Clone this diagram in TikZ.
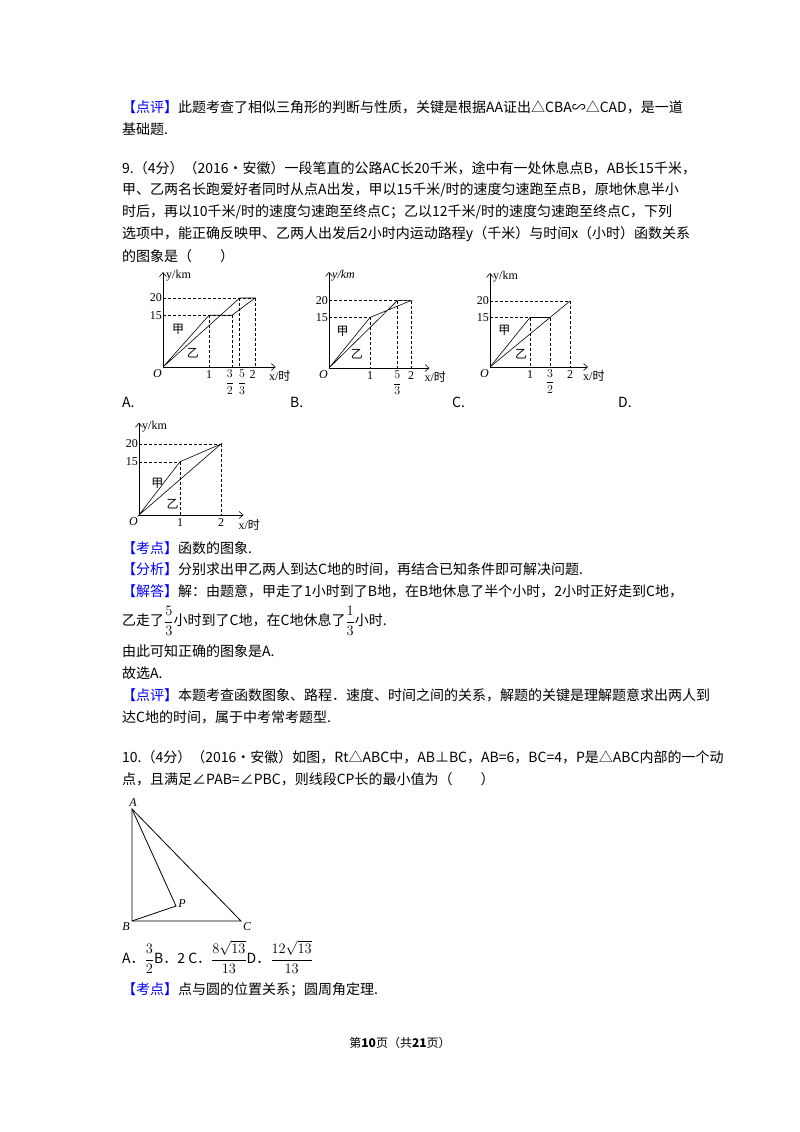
\documentclass[tikz,border=0pt]{standalone}
\usepackage{amsmath}
\usepackage{fontspec}
\setmainfont{Liberation Serif}
\newfontfamily\cjk{Noto Sans CJK SC}
\usetikzlibrary{arrows.meta}
\newcommand{\bk}[1]{\textcolor{blue}{【#1】}}
\begin{document}
\begin{tikzpicture}[x=1pt,y=-1pt,
  txt/.style={anchor=west,inner sep=0pt,font=\cjk\fontsize{14}{16}\selectfont},
  lab/.style={inner sep=1pt,font=\fontsize{12}{13}\selectfont},
  fr/.style={inner sep=1pt,font=\fontsize{13}{13}\selectfont},
  it/.style={inner sep=1pt,font=\itshape\fontsize{12}{13}\selectfont},
  hz/.style={inner sep=1pt,font=\cjk\fontsize{12}{13}\selectfont},
  axis/.style={line width=0.6pt,-{Straight Barb[length=4pt,width=7pt]}},
  guide/.style={densely dashed,line width=0.5pt},
  curve/.style={line width=0.6pt},
  tri/.style={line width=0.8pt}]
\useasboundingbox[fill=white] (0,0) rectangle (800,1132);
\node[txt] (t1) at (122,107) {\bk{点评}此题考查了相似三角形的判断与性质，关键是根据AA证出△CBA∽△CAD，是一道};
\node[txt] (t2) at (122,129) {基础题.};
\node[txt] (t3) at (122,168) {9.（4分）（2016•安徽）一段笔直的公路AC长20千米，途中有一处休息点B，AB长15千米，};
\node[txt] (t4) at (122,190) {甲、乙两名长跑爱好者同时从点A出发，甲以15千米/时的速度匀速跑至点B，原地休息半小};
\node[txt] (t5) at (122,212) {时后，再以10千米/时的速度匀速跑至终点C；乙以12千米/时的速度匀速跑至终点C，下列};
\node[txt] (t6) at (122,234) {选项中，能正确反映甲、乙两人出发后2小时内运动路程y（千米）与时间x（小时）函数关系};
\node[txt] (t7) at (122,256) {的图象是（　　）};
\node[txt] (la) at (122,402) {A.};
\node[txt] (lb) at (290,402) {B.};
\node[txt] (lc) at (452,402) {C.};
\node[txt] (ld) at (618,402) {D.};
% Graph A
\begin{scope}[shift={(163,367)},x=46pt,y=3.45pt]
\coordinate (o) at (0,0);
\draw[axis] (o) -- (2.45,0) coordinate (xe);
\draw[axis] (o) -- (0,27.5) coordinate (ye);
\node[lab,anchor=west] at ([xshift=2pt,yshift=-4pt]ye) {y/km};
\node[lab,anchor=north west] at (2.28,-0.8) {x/{\cjk 时}};
\node[it,anchor=north east] at (0,-0.5) {O};
\draw[guide] (0,15) -- (1.5,15) (0,20) -- (2,20) (1,15) -- (1,0) (1.5,15) -- (1.5,0) (5/3,20) -- (5/3,0) (2,20) -- (2,0);
\node[lab,anchor=east] at (0,15) {15};
\node[lab,anchor=east] at (0,20) {20};
\node[lab,anchor=north] at (1,-0.8) {1};
\node[fr,anchor=north] at (1.45,-0.5) {$\dfrac{3}{2}$};
\node[fr,anchor=north] at (1.72,-0.5) {$\dfrac{5}{3}$};
\node[lab,anchor=north] at (1.95,-0.8) {2};
\draw[curve] (o) -- (1,15) -- (1.5,15) -- (2,20) -- (5/3,20) -- cycle;
\node[hz] at (0.33,11) {甲};
\node[hz] at (0.65,4) {乙};
\end{scope}
% Graph B
\begin{scope}[shift={(329,368)},x=41pt,y=3.37pt]
\coordinate (o) at (0,0);
\draw[axis] (o) -- (2.45,0) coordinate (xe);
\draw[axis] (o) -- (0,28.5) coordinate (ye);
\node[it,anchor=west] at ([xshift=2pt,yshift=-4pt]ye) {y/km};
\node[lab,anchor=north west] at (2.3,-0.8) {x/{\cjk 时}};
\node[it,anchor=north east] at (0,-0.5) {O};
\draw[guide] (0,15) -- (1,15) (0,20) -- (2,20) (1,15) -- (1,0) (5/3,20) -- (5/3,0) (2,20) -- (2,0);
\node[lab,anchor=east] at (0,15) {15};
\node[lab,anchor=east] at (0,20) {20};
\node[lab,anchor=north] at (1,-0.8) {1};
\node[fr,anchor=north] at (5/3,-0.5) {$\dfrac{5}{3}$};
\node[lab,anchor=north] at (2,-0.8) {2};
\draw[curve] (o) -- (1,15) -- (2,20) -- (5/3,20) -- cycle;
\node[hz] at (0.33,11) {甲};
\node[hz] at (0.68,4) {乙};
\end{scope}
% Graph C
\begin{scope}[shift={(490,367)},x=40pt,y=3.3pt]
\coordinate (o) at (0,0);
\draw[axis] (o) -- (2.45,0) coordinate (xe);
\draw[axis] (o) -- (0,28.5) coordinate (ye);
\node[lab,anchor=west] at ([xshift=2pt,yshift=-4pt]ye) {y/km};
\node[lab,anchor=north west] at (2.3,-0.8) {x/{\cjk 时}};
\node[it,anchor=north east] at (0,-0.5) {O};
\draw[guide] (0,15) -- (1,15) (0,20) -- (2,20) (1,15) -- (1,0) (1.5,15) -- (1.5,0) (2,20) -- (2,0);
\node[lab,anchor=east] at (0,15) {15};
\node[lab,anchor=east] at (0,20) {20};
\node[lab,anchor=north] at (1,-0.8) {1};
\node[fr,anchor=north] at (1.5,-0.5) {$\dfrac{3}{2}$};
\node[lab,anchor=north] at (2,-0.8) {2};
\draw[curve] (o) -- (1,15) -- (1.5,15);
\draw[curve] (o) -- (2,20);
\node[hz] at (0.36,11) {甲};
\node[hz] at (0.78,4) {乙};
\end{scope}
% Graph D
\begin{scope}[shift={(139,515)},x=41pt,y=3.55pt]
\coordinate (o) at (0,0);
\draw[axis] (o) -- (2.55,0) coordinate (xe);
\draw[axis] (o) -- (0,26) coordinate (ye);
\node[lab,anchor=west] at ([xshift=2pt,yshift=-4pt]ye) {y/km};
\node[lab,anchor=north west] at (2.4,-0.8) {x/{\cjk 时}};
\node[it,anchor=north east] at (0,-0.5) {O};
\draw[guide] (0,15) -- (1,15) (0,20) -- (2,20) (1,15) -- (1,0) (2,20) -- (2,0);
\node[lab,anchor=east] at (0,15) {15};
\node[lab,anchor=east] at (0,20) {20};
\node[lab,anchor=north] at (1,-0.8) {1};
\node[lab,anchor=north] at (2,-0.8) {2};
\draw[curve] (o) -- (1,15) -- (2,20) -- cycle;
\node[hz] at (0.45,9) {甲};
\node[hz] at (0.82,3) {乙};
\end{scope}
\node[txt] (s1) at (122,548) {\bk{考点}函数的图象.};
\node[txt] (s2) at (122,569) {\bk{分析}分别求出甲乙两人到达C地的时间，再结合已知条件即可解决问题.};
\node[txt] (s3) at (122,591) {\bk{解答}解：由题意，甲走了1小时到了B地，在B地休息了半个小时，2小时正好走到C地，};
\node[txt] (s4) at (122,621) {乙走了$\dfrac{5}{3}$小时到了C地，在C地休息了$\dfrac{1}{3}$小时.};
\node[txt] (s5) at (122,651) {由此可知正确的图象是A.};
\node[txt] (s6) at (122,673) {故选A.};
\node[txt] (s7) at (122,695) {\bk{点评}本题考查函数图象、路程．速度、时间之间的关系，解题的关键是理解题意求出两人到};
\node[txt] (s8) at (122,717) {达C地的时间，属于中考常考题型.};
\node[txt] (q1) at (122,757) {10.（4分）（2016•安徽）如图，Rt△ABC中，AB⊥BC，AB=6，BC=4，P是△ABC内部的一个动};
\node[txt] (q2) at (122,779) {点，且满足∠PAB=∠PBC，则线段CP长的最小值为（　　）};
% triangle
\coordinate (A) at (132,809);
\coordinate (B) at (132,921);
\coordinate (C) at (241,921);
\coordinate (P) at (176,906);
\draw[tri] (A) -- (B) -- (C) -- cycle;
\draw[tri] (A) -- (P) -- (B);
\node[it,anchor=south] (nA) at (133,808) {A};
\node[it] (nB) at (126,927) {B};
\node[it] (nC) at (247,927) {C};
\node[it] (nP) at (182,904) {P};
\node[txt] (ans) at (122,957) {A．$\dfrac{3}{2}$B．2 C．$\dfrac{8\sqrt{13}}{13}$D．$\dfrac{12\sqrt{13}}{13}$};
\node[txt] (k2) at (122,990) {\bk{考点}点与圆的位置关系；圆周角定理.};
\node[inner sep=0pt,font=\cjk\fontsize{12}{14}\selectfont] (ft) at (400,1043) {第\textbf{10}页（共\textbf{21}页）};
\end{tikzpicture}
\end{document}
